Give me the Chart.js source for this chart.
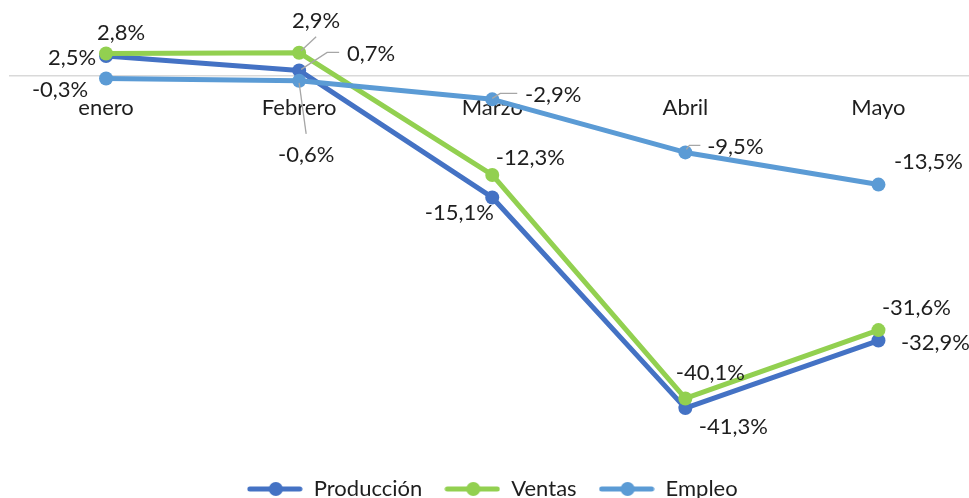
<!DOCTYPE html>
<html><head><meta charset="utf-8">
<script src="https://cdn.jsdelivr.net/npm/chart.js@4.4.1/dist/chart.umd.min.js"></script>
<style>html,body{margin:0;padding:0;background:#fff;overflow:hidden}#c{display:block}</style>
</head><body><canvas id="c" width="991" height="498"></canvas>
<script>
// ---- data ----
const categories = ['enero', 'Febrero', 'Marzo', 'Abril', 'Mayo'];
const produccion = [2.5, 0.7, -15.1, -41.3, -32.9];
const ventas     = [2.8, 2.9, -12.3, -40.1, -31.6];
const empleo     = [-0.3, -0.6, -2.9, -9.5, -13.5];
const seriesNames = ['Producción', 'Ventas', 'Empleo'];

// ---- styling ----
const colors = ['#4472C4', '#92D050', '#5B9BD5'];
const FONT = 'Lato';
const FS = 22;
const TEXT = '#1e1e1e';
const LEADER = '#A6A6A6';

// label placement per series / point: d = centre offset from point, leader = polyline offsets
const placement = [
  [ {d:[-34,2]}, {d:[72,-17], leader:[[2,-1],[28,-18],[40,-18]]}, {d:[-33,15]}, {d:[48,19]}, {d:[57,2]} ],
  [ {d:[15,-21]}, {d:[17,-32], leader:[[2,-2],[17,-16]]}, {d:[38,-17]}, {d:[25,-26]}, {d:[38,-22]} ],
  [ {d:[-46,11]}, {d:[7,74], leader:[[0,2],[7,53]]}, {d:[61,-4], leader:[[0,-1],[8,-6],[25,-6]]}, {d:[50,-6], leader:[[1,-3],[4,-7],[15,-7]]}, {d:[50,-23]} ]
];

function fmt(v){ return v.toFixed(1).replace('.', ',') + '%'; }

function legendIcon(color){
  const c = document.createElement('canvas');
  c.width = 56; c.height = 16;
  const g = c.getContext('2d');
  g.strokeStyle = color; g.lineWidth = 5; g.lineCap = 'round';
  g.beginPath(); g.moveTo(3, 8); g.lineTo(53, 8); g.stroke();
  g.fillStyle = color; g.beginPath(); g.arc(29, 8, 7, 0, Math.PI*2); g.fill();
  return c;
}

const labelPlugin = {
  id: 'valueLabels',
  afterDatasetsDraw(chart){
    const ctx = chart.ctx;
    ctx.save();
    ctx.font = FS + 'px ' + FONT;
    ctx.textAlign = 'center';
    ctx.textBaseline = 'middle';
    chart.data.datasets.forEach((ds, di) => {
      const meta = chart.getDatasetMeta(di);
      meta.data.forEach((pt, i) => {
        const p = placement[di][i];
        if (p.leader){
          ctx.strokeStyle = LEADER; ctx.lineWidth = 1.3;
          ctx.beginPath();
          p.leader.forEach((o, k) => { const fx = k ? 'lineTo' : 'moveTo'; ctx[fx](pt.x + o[0], pt.y + o[1]); });
          ctx.stroke();
        }
        ctx.fillStyle = TEXT;
        ctx.fillText(fmt(ds.data[i]), pt.x + p.d[0], pt.y + p.d[1]);
      });
    });
    ctx.restore();
  }
};

const seriesData = [produccion, ventas, empleo];
const orders = [3, 2, 1];

new Chart(document.getElementById('c'), {
  type: 'line',
  data: {
    labels: categories,
    datasets: seriesData.map((d, i) => ({
      label: seriesNames[i],
      data: d,
      order: orders[i],
      borderColor: colors[i],
      backgroundColor: colors[i],
      pointBackgroundColor: colors[i],
      pointBorderWidth: 0,
      pointRadius: 7,
      pointStyle: 'circle',
      borderWidth: 5,
      borderCapStyle: 'round',
      borderJoinStyle: 'round',
      tension: 0
    }))
  },
  options: {
    responsive: false,
    animation: false,
    devicePixelRatio: 1,
    layout: { padding: { left: 9.5, right: 16, top: 36, bottom: -12 } },
    scales: {
      x: {
        type: 'category',
        offset: true,
        position: { y: 0 },
        grid: { display: false, drawTicks: false },
        border: { display: true, color: '#D9D9D9', width: 1.5 },
        ticks: { color: TEXT, font: { family: FONT, size: FS }, padding: 19, maxRotation: 0 }
      },
      y: {
        display: false,
        min: -47.26,
        max: 4.98
      }
    },
    plugins: {
      tooltip: { enabled: false },
      legend: {
        position: 'bottom',
        labels: {
          usePointStyle: true,
          pointStyleWidth: 56,
          boxHeight: 16,
          padding: 22,
          color: TEXT,
          font: { family: FONT, size: FS },
          generateLabels(chart){
            return chart.data.datasets.map((ds, i) => ({
              text: ds.label,
              pointStyle: legendIcon(colors[i]),
              fillStyle: colors[i],
              strokeStyle: colors[i],
              lineWidth: 0,
              datasetIndex: i,
              fontColor: TEXT,
              hidden: false
            }));
          }
        }
      }
    }
  },
  plugins: [labelPlugin]
});
</script>
</body></html>
